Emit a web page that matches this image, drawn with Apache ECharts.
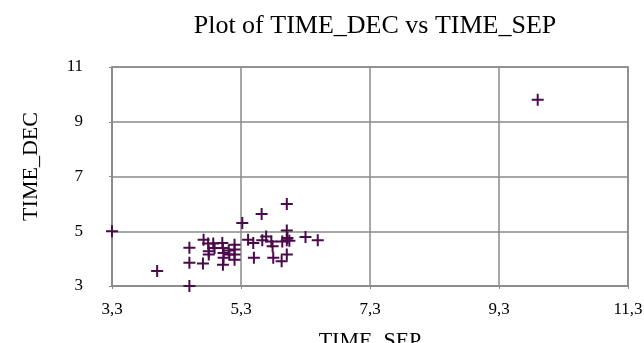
<!DOCTYPE html>
<html>
<head>
<meta charset="utf-8">
<title>Plot of TIME_DEC vs TIME_SEP</title>
<script src="https://cdn.jsdelivr.net/npm/echarts@6/dist/echarts.min.js"></script>
<style>
  html, body { margin: 0; padding: 0; background: #fff; }
  #main { width: 644px; height: 343px; }
</style>
</head>
<body>
<div id="main"></div>
<script>
// TIME_SEP (x) / TIME_DEC (y)
var timeSep = [3.3, 4.0, 4.5, 4.5, 4.5, 4.71, 4.72, 4.79, 4.8, 4.8, 4.87, 4.89,
               5.01, 5.02, 5.03, 5.03, 5.02, 5.11, 5.12, 5.2, 5.2, 5.2, 5.2,
               5.32, 5.41, 5.49, 5.5, 5.62, 5.63, 5.69, 5.77, 5.79, 5.8, 5.93, 5.94,
               6.01, 6.01, 6.01, 6.02, 6.05, 6.01, 6.3, 6.49, 9.9];
var timeDec = [5.0, 3.55, 3.0, 3.85, 4.4, 3.82, 4.69, 4.55, 4.27, 4.15, 4.55, 4.39,
               4.57, 4.39, 4.21, 4.03, 3.78, 4.3, 4.15, 4.51, 4.33, 4.15, 3.96,
               5.3, 4.69, 4.57, 4.03, 5.63, 4.67, 4.81, 4.63, 4.45, 4.03, 3.9, 4.63,
               6.0, 5.03, 4.67, 4.75, 4.65, 4.15, 4.79, 4.67, 9.8];
var xTicks = [3.3, 5.3, 7.3, 9.3, 11.3];
var yTicks = [3, 5, 7, 9, 11];

var points = [];
for (var i = 0; i < timeSep.length; i++) {
    points.push([timeSep[i], timeDec[i]]);
}

var gridGray = '#8a8a8a';
var serif = '"Liberation Serif", "DejaVu Serif", serif';

var chart = echarts.init(document.getElementById('main'));
chart.setOption({
    animation: false,
    backgroundColor: '#fff',
    title: {
        text: 'Plot of TIME_DEC vs TIME_SEP',
        left: 370,
        top: 8,
        textAlign: 'center',
        textStyle: { fontFamily: serif, fontSize: 26, fontWeight: 'normal', color: '#000' }
    },
    grid: {
        left: 112, top: 67, right: 16, bottom: 57,
        containLabel: false,
        outerBoundsMode: 'none',
        show: true, borderColor: gridGray, borderWidth: 1.5
    },
    xAxis: {
        type: 'value',
        min: xTicks[0],
        max: xTicks[xTicks.length - 1],
        interval: xTicks[1] - xTicks[0],
        name: 'TIME_SEP',
        nameLocation: 'middle',
        nameGap: 44,
        nameTextStyle: { fontFamily: serif, fontSize: 22, color: '#000' },
        axisLine: { lineStyle: { color: gridGray, width: 1.5 } },
        axisTick: { show: true, length: 3, lineStyle: { color: gridGray } },
        splitLine: { show: true, lineStyle: { color: gridGray, width: 1.5 } },
        axisLabel: {
            margin: 15,
            fontFamily: serif, fontSize: 17, color: '#000',
            formatter: function (v) { return v.toFixed(1).replace('.', ','); }
        }
    },
    yAxis: {
        type: 'value',
        min: yTicks[0],
        max: yTicks[yTicks.length - 1],
        interval: yTicks[1] - yTicks[0],
        name: 'TIME_DEC',
        nameLocation: 'middle',
        nameGap: 70,
        // reference title sits ~10px above the plot middle
        nameTextStyle: { fontFamily: serif, fontSize: 22, color: '#000', padding: [0, 0, 0, 20] },
        axisLine: { lineStyle: { color: gridGray, width: 1.5 } },
        axisTick: { show: true, length: 3, lineStyle: { color: gridGray } },
        splitLine: { show: true, lineStyle: { color: gridGray, width: 1.5 } },
        axisLabel: { margin: 29, fontFamily: serif, fontSize: 17, color: '#000' }
    },
    series: [{
        type: 'scatter',
        data: points,
        symbol: 'path://M5,0H7V5H12V7H7V12H5V7H0V5H5Z',
        symbolSize: 12,
        itemStyle: { color: '#4b0a4b', opacity: 1 }
    }]
});
</script>
</body>
</html>
